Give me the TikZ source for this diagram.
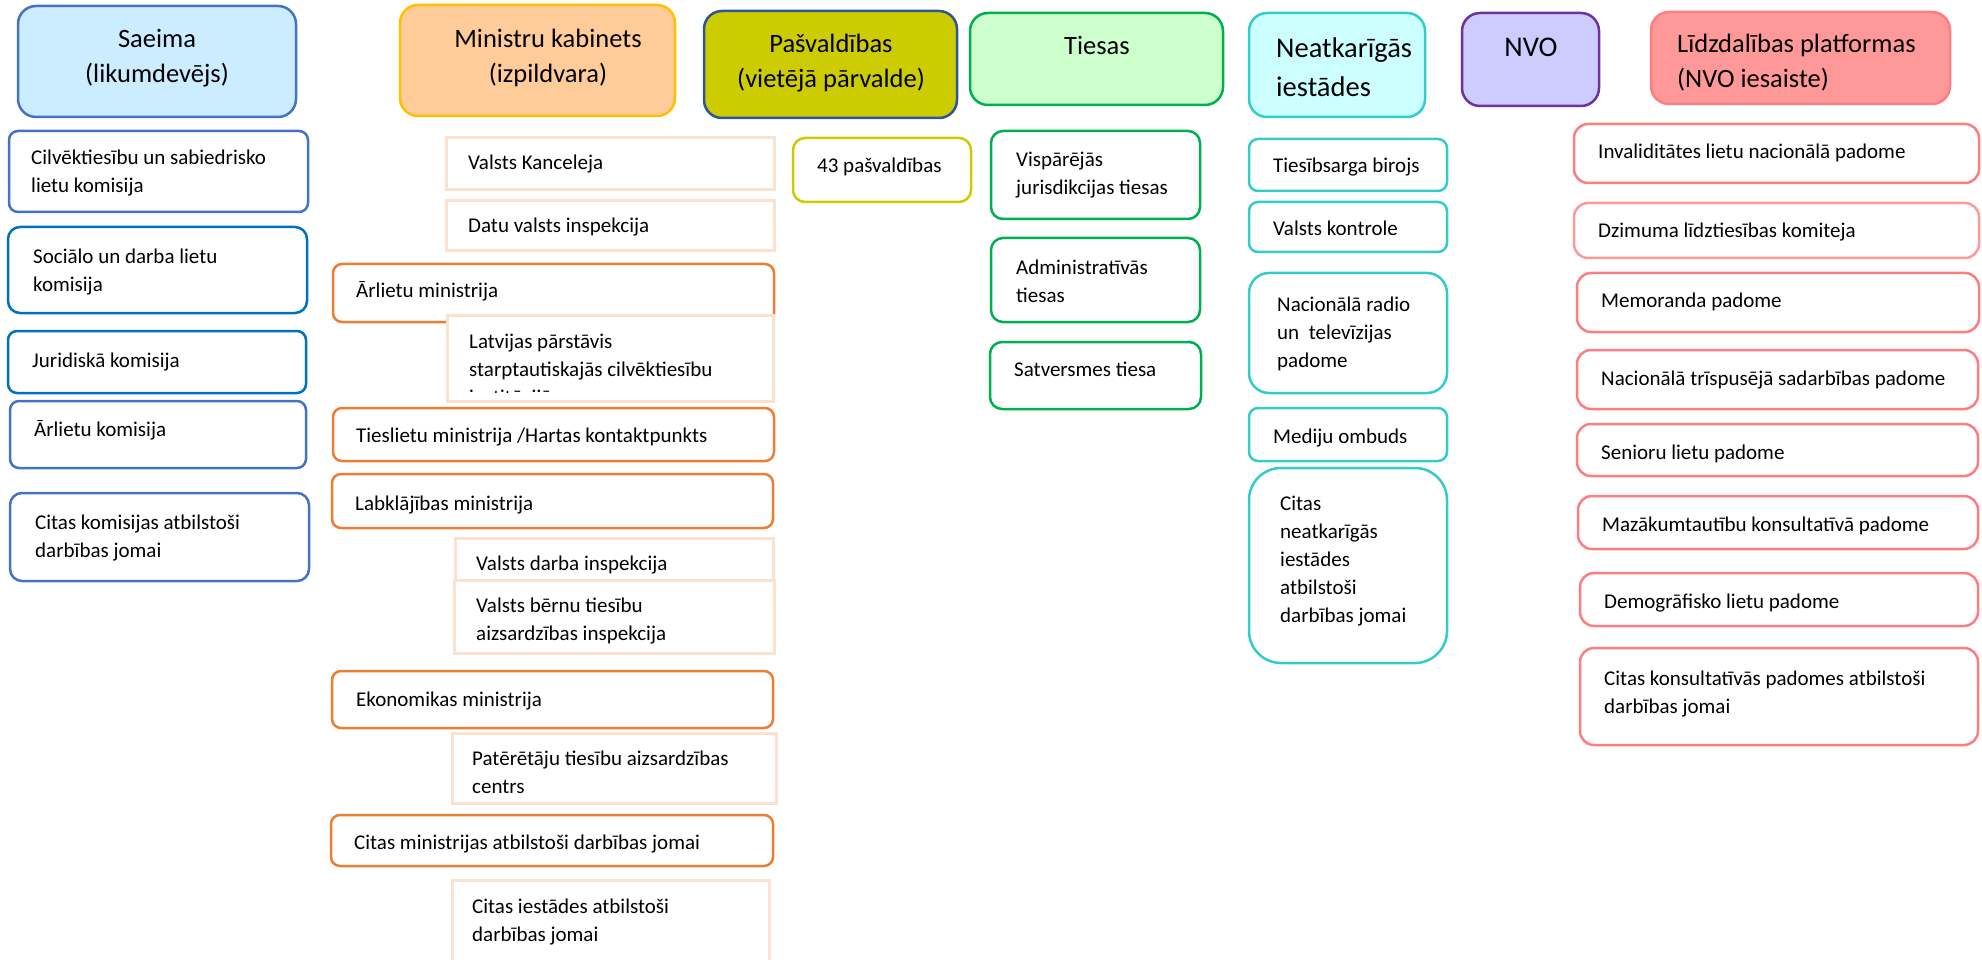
\documentclass[tikz,border=0pt]{standalone}
\usepackage{fontspec}
\setmainfont{Carlito}
\usetikzlibrary{positioning}
\definecolor{saeimafill}{HTML}{CCECFF}
\definecolor{saeimaline}{HTML}{4472C4}
\definecolor{deepblue}{HTML}{0070C0}
\definecolor{mkfill}{HTML}{FFCC99}
\definecolor{mkline}{HTML}{FFC000}
\definecolor{minline}{HTML}{ED7D31}
\definecolor{peach}{HTML}{FBE2D0}
\definecolor{pasvfill}{HTML}{CCCC00}
\definecolor{pasvline}{HTML}{2F5597}
\definecolor{tiesfill}{HTML}{CCFFCC}
\definecolor{tiesline}{HTML}{00B050}
\definecolor{neatfill}{HTML}{CCFFFF}
\definecolor{neatline}{HTML}{33CCCC}
\definecolor{nvofill}{HTML}{CCCCFF}
\definecolor{nvoline}{HTML}{7030A0}
\definecolor{lidzfill}{HTML}{FF9999}
\definecolor{lidzline}{HTML}{FF7C80}
\tikzset{
  head/.style={draw, line width=2.5pt, rounded corners=18pt, anchor=north west,
               inner sep=0pt, outer sep=0pt},
  item/.style={draw, fill=white, line width=2.5pt, rounded corners=9pt,
               anchor=north west, inner sep=0pt, outer sep=0pt},
  plain/.style={draw=peach, fill=white, line width=3pt, anchor=north west,
                inner sep=0pt, outer sep=0pt},
  % multi-line labels sit on the baseline of their last line
  lbl/.style={anchor=base west, inner sep=0pt, align=left,
              font=\fontsize{21}{28}\selectfont},
  hlbl/.style={anchor=base, inner sep=0pt, align=center,
               font=\fontsize{26.5}{35}\selectfont},
}

\begin{document}
\begin{tikzpicture}[x=1pt, y=-1pt]
  \clip (0,0) rectangle (1982,960);

  % headers
  \node[head, fill=saeimafill, draw=saeimaline, minimum width=278pt, minimum height=111pt] (saeima) at (18,6) {};
  \node[hlbl] (saeima-t) at (157,83) {Saeima\\(likumdevējs)};
  \node[head, fill=mkfill, draw=mkline, minimum width=275pt, minimum height=111pt] (mk) at (400,5) {};
  \node[hlbl] (mk-t) at (548,83) {Ministru kabinets\\(izpildvara)};
  \node[head, fill=pasvfill, draw=pasvline, minimum width=253pt, minimum height=107pt] (pasv) at (704,11) {};
  \node[hlbl] (pasv-t) at (831,88) {Pašvaldības\\(vietējā pārvalde)};
  \node[head, fill=tiesfill, draw=tiesline, minimum width=253pt, minimum height=92pt] (tiesas) at (970,13) {};
  \node[hlbl] (tiesas-t) at (1097,55) {Tiesas};
  \node[head, fill=neatfill, draw=neatline, minimum width=176pt, minimum height=104pt] (neatk) at (1249,13) {};
  \node[hlbl, anchor=base west, align=left, font=\fontsize{28.5}{39}\selectfont] (neatk-t) at (1276,97) {Neatkarīgās\\iestādes};
  \node[head, fill=nvofill, draw=nvoline, minimum width=137pt, minimum height=93pt] (nvo) at (1462,13) {};
  \node[hlbl, font=\fontsize{28.5}{39}\selectfont] (nvo-t) at (1531,57) {NVO};
  \node[head, fill=lidzfill, draw=lidzline, minimum width=299pt, minimum height=92pt] (lidz) at (1651,12) {};
  \node[hlbl, anchor=base west, align=left] (lidz-t) at (1677,88) {Līdzdalības platformas\\(NVO iesaiste)};

  % Saeima komisijas
  \node[item, draw=saeimaline, minimum width=299pt, minimum height=81pt] (cilv) at (9,131) {};
  \node[lbl] (cilv-t) at (31,193) {Cilvēktiesību un sabiedrisko\\lietu komisija};
  \node[item, draw=deepblue, rounded corners=12pt, minimum width=299pt, minimum height=86pt] (soc) at (8,227) {};
  \node[lbl] (soc-t) at (33,291) {Sociālo un darba lietu\\komisija};
  \node[item, draw=deepblue, minimum width=298pt, minimum height=62pt] (jur) at (8,331) {};
  \node[lbl] (jur-t) at (32,367) {Juridiskā komisija};
  \node[item, draw=saeimaline, minimum width=296pt, minimum height=67pt] (arkom) at (10,401) {};
  \node[lbl] (arkom-t) at (34,436) {Ārlietu komisija};
  \node[item, draw=saeimaline, rounded corners=12pt, minimum width=299pt, minimum height=88pt] (citkom) at (10,493) {};
  \node[lbl] (citkom-t) at (35,557) {Citas komisijas atbilstoši\\darbības jomai};

  % Ministru kabinets
  \node[plain, minimum width=328pt, minimum height=52pt] (vk) at (446,138) {};
  \node[lbl] (vk-t) at (468,170) {Valsts Kanceleja};
  \node[plain, minimum width=328pt, minimum height=50pt] (dvi) at (446,201) {};
  \node[lbl] (dvi-t) at (468,233) {Datu valsts inspekcija};
  \node[item, draw=minline, minimum width=441pt, minimum height=58pt] (arm) at (333,264) {};
  \node[lbl] (arm-t) at (356,298) {Ārlietu ministrija};
  \node[plain, minimum width=326pt, minimum height=86pt] (lp) at (447,315) {};
  \begin{scope}
    \clip (449,317) rectangle (771,392);
    \node[lbl] (lp-t) at (469,404) {Latvijas pārstāvis\\starptautiskajās cilvēktiesību\\institūcijās};
  \end{scope}
  \node[item, draw=minline, minimum width=441pt, minimum height=53pt] (tm) at (333,408) {};
  \node[lbl] (tm-t) at (356,442) {Tieslietu ministrija /Hartas kontaktpunkts};
  \node[item, draw=minline, minimum width=441pt, minimum height=54pt] (lm) at (332,474) {};
  \node[lbl] (lm-t) at (355,510) {Labklājības ministrija};
  \node[plain, minimum width=318pt, minimum height=42pt] (vdi) at (455,538) {};
  \node[lbl] (vdi-t) at (476,570) {Valsts darba inspekcija};
  \node[plain, minimum width=320pt, minimum height=73pt] (vbt) at (454,580) {};
  \node[lbl] (vbt-t) at (476,640) {Valsts bērnu tiesību\\aizsardzības inspekcija};
  \node[item, draw=minline, minimum width=441pt, minimum height=57pt] (em) at (332,671) {};
  \node[lbl] (em-t) at (356,706) {Ekonomikas ministrija};
  \node[plain, minimum width=324pt, minimum height=70pt] (ptac) at (452,733) {};
  \node[lbl] (ptac-t) at (472,793) {Patērētāju tiesību aizsardzības\\centrs};
  \node[item, draw=minline, minimum width=442pt, minimum height=51pt] (citmin) at (331,815) {};
  \node[lbl] (citmin-t) at (354,849) {Citas ministrijas atbilstoši darbības jomai};
  \node[plain, minimum width=317pt, minimum height=90pt] (citiest) at (452,880) {};
  \node[lbl] (citiest-t) at (472,941) {Citas iestādes atbilstoši\\darbības jomai};

  % Pašvaldības
  \node[item, draw=pasvfill, rounded corners=12pt, minimum width=178pt, minimum height=64pt] (p43) at (793,138) {};
  \node[lbl] (p43-t) at (817,173) {43 pašvaldības};

  % Tiesas
  \node[item, draw=tiesline, rounded corners=12pt, minimum width=209pt, minimum height=88pt] (visp) at (991,131) {};
  \node[lbl] (visp-t) at (1016,195) {Vispārējās\\jurisdikcijas tiesas};
  \node[item, draw=tiesline, rounded corners=12pt, minimum width=209pt, minimum height=84pt] (admin) at (991,238) {};
  \node[lbl] (admin-t) at (1016,302) {Administratīvās\\tiesas};
  \node[item, draw=tiesline, rounded corners=12pt, minimum width=211pt, minimum height=67pt] (satv) at (990,342) {};
  \node[lbl] (satv-t) at (1014,376) {Satversmes tiesa};

  % Neatkarigas iestades
  \node[item, draw=neatline, minimum width=198pt, minimum height=52pt] (tb) at (1249,139) {};
  \node[lbl] (tb-t) at (1273,173) {Tiesībsarga birojs};
  \node[item, draw=neatline, minimum width=198pt, minimum height=50pt] (vkon) at (1249,202) {};
  \node[lbl] (vkon-t) at (1273,236) {Valsts kontrole};
  \node[item, draw=neatline, rounded corners=20pt, minimum width=198pt, minimum height=120pt] (nrtp) at (1249,273) {};
  \node[lbl] (nrtp-t) at (1277,367) {Nacionālā radio\\un\ \ televīzijas\\padome};
  \node[item, draw=neatline, minimum width=198pt, minimum height=53pt] (mo) at (1249,408) {};
  \node[lbl] (mo-t) at (1273,443) {Mediju ombuds};
  \node[item, draw=neatline, rounded corners=32pt, minimum width=198pt, minimum height=195pt] (citn) at (1249,468) {};
  \node[lbl] (citn-t) at (1280,622) {Citas\\neatkarīgās\\iestādes\\atbilstoši\\darbības jomai};

  % Lidzdalibas platformas
  \foreach \nm/\col/\xa/\ya/\w/\h/\dy/\txt in {
      inv/lidzline/1574/124/405/59/35/{Invaliditātes lietu nacionālā padome},
      dz/lidzfill/1574/203/405/55/35/{Dzimuma līdztiesības komiteja},
      mem/lidzline/1577/273/402/59/35/{Memoranda padome},
      ntsp/lidzline/1577/350/401/59/35/{Nacionālā trīspusējā sadarbības padome},
      sen/lidzline/1577/424/401/52/35/{Senioru lietu padome},
      maz/lidzline/1578/496/400/53/35/{Mazākumtautību konsultatīvā padome},
      dem/lidzline/1580/573/398/53/35/{Demogrāfisko lietu padome},
      citk/lidzline/1580/648/398/97/65/{Citas konsultatīvās padomes atbilstoši\\darbības jomai}}{
    \node[item, draw=\col, rounded corners=14pt, minimum width=\w pt, minimum height=\h pt] (\nm) at (\xa,\ya) {};
    \node[lbl] (\nm-t) at (\xa+24,\ya+\dy) {\txt};
  }
\end{tikzpicture}
\end{document}
